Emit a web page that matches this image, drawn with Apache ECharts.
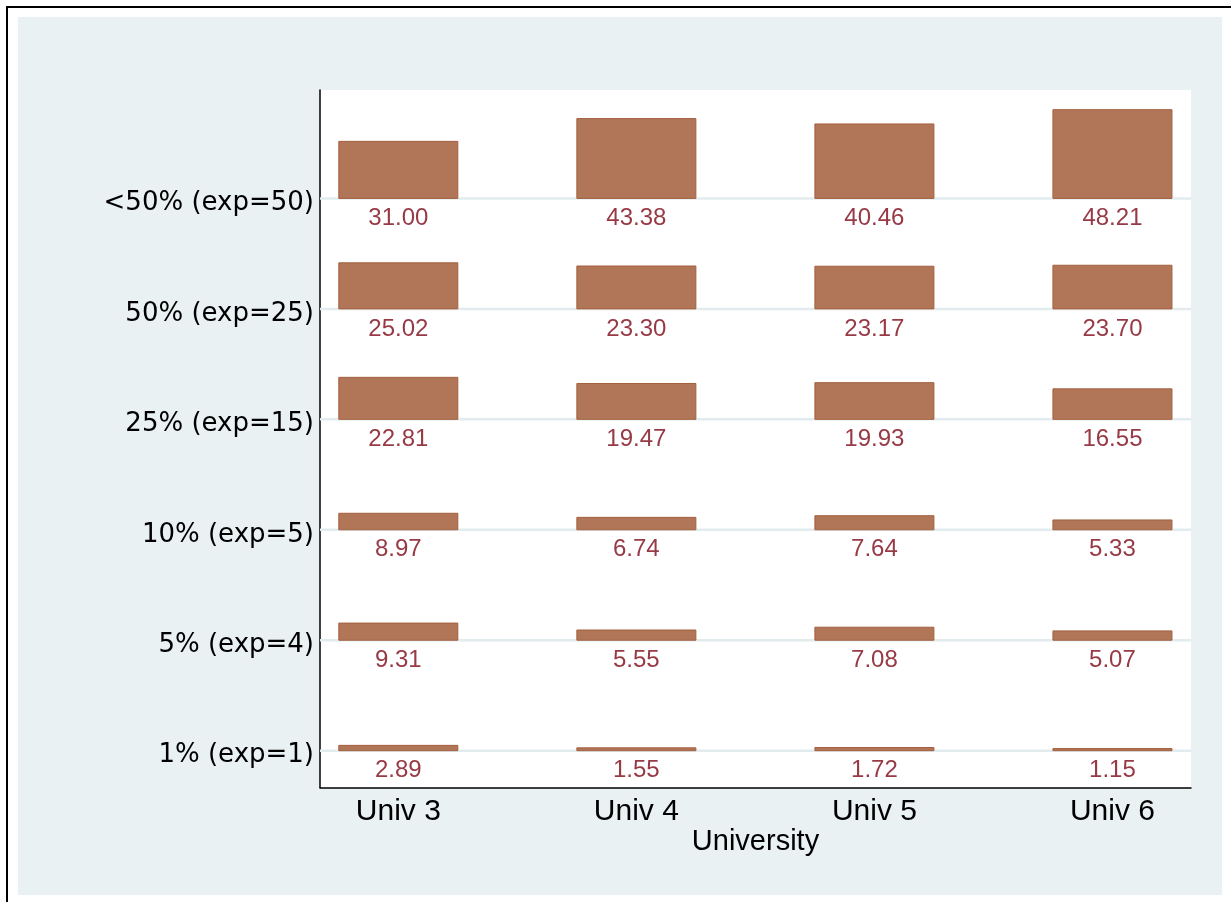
<!DOCTYPE html>
<html>
<head>
<meta charset="utf-8">
<script src="https://cdn.jsdelivr.net/npm/echarts@6/dist/echarts.min.js"></script>
<style>
  html, body { margin: 0; padding: 0; background: #ffffff; }
  #chart { width: 1231px; height: 902px; }
</style>
</head>
<body>
<div id="chart"></div>
<script>
// ---- data ----
const universities = ['Univ 3', 'Univ 4', 'Univ 5', 'Univ 6'];
const rowLabels = ['<50% (exp=50)', '50% (exp=25)', '25% (exp=15)', '10% (exp=5)', '5% (exp=4)', '1% (exp=1)'];
const univ3 = [31.00, 25.02, 22.81, 8.97, 9.31, 2.89];
const univ4 = [43.38, 23.30, 19.47, 6.74, 5.55, 1.55];
const univ5 = [40.46, 23.17, 19.93, 7.64, 7.08, 1.72];
const univ6 = [48.21, 23.70, 16.55, 5.33, 5.07, 1.15];

// ---- layout of the stacked rows (value-axis units) ----
const ROW_STEP = 60;
const ROW_OFFSET = 20;
const nRows = rowLabels.length;
const baseOf = i => ROW_OFFSET + ROW_STEP * (nRows - 1 - i);
const baselines = rowLabels.map((_, i) => baseOf(i));

const columns = [univ3, univ4, univ5, univ6];
const cellData = [];
columns.forEach((vals, j) => {
  vals.forEach((v, i) => cellData.push([j + 1, baseOf(i), v]));
});

const BAR_COLOR = '#b17657';
const BAR_EDGE = '#a4603f';
const LABEL_COLOR = '#973a45';
const BG = '#e9f1f3';

const chart = echarts.init(document.getElementById('chart'), null, { renderer: 'canvas' });

const option = {
  animation: false,
  backgroundColor: '#ffffff',
  graphic: [
    { type: 'rect', z: -10, shape: { x: 7, y: 7, width: 1240, height: 900 },
      style: { fill: '#ffffff', stroke: '#000000', lineWidth: 2 } },
    { type: 'rect', z: -9, shape: { x: 18, y: 17, width: 1204, height: 878 },
      style: { fill: BG } }
  ],
  grid: {
    left: 320, top: 90, right: 40, bottom: 114.5,
    show: true, backgroundColor: '#ffffff', borderWidth: 0
  },
  xAxis: {
    type: 'value',
    min: 0.671, max: 4.33,
    name: 'University',
    nameLocation: 'middle',
    nameGap: 40,
    nameMoveOverlap: false,
    nameTextStyle: { fontFamily: 'Liberation Sans', fontSize: 29, color: '#000' },
    axisLine: { show: true, onZero: false, lineStyle: { color: '#000', width: 1.5 } },
    axisTick: { show: false },
    splitLine: { show: false },
    axisLabel: {
      customValues: [1, 2, 3, 4],
      formatter: v => universities[Math.round(v) - 1],
      fontFamily: 'Liberation Sans', fontSize: 30, color: '#000', margin: 9
    }
  },
  yAxis: {
    type: 'value',
    min: 0, max: 378.9,
    axisLine: { show: true, onZero: false, lineStyle: { color: '#000', width: 1.5 } },
    axisTick: { show: false },
    splitLine: { show: false },
    axisLabel: {
      customValues: baselines,
      formatter: v => '{r|' + rowLabels[nRows - 1 - Math.round((v - ROW_OFFSET) / ROW_STEP)] + '}',
      margin: 6,
      rich: {
        r: { fontFamily: 'DejaVu Sans', fontSize: 26, color: '#000', padding: [10, 0, 0, 0] }
      }
    }
  },
  series: [
    {
      type: 'custom',
      name: 'gridlines',
      z: 1,
      silent: true,
      data: baselines,
      renderItem: (params, api) => {
        const cs = params.coordSys;
        const y = api.coord([1, api.value(0)])[1];
        return {
          type: 'line',
          shape: { x1: cs.x, y1: y, x2: cs.x + cs.width, y2: y },
          style: { stroke: '#e2ecef', lineWidth: 2.5 }
        };
      }
    },
    {
      type: 'custom',
      name: 'cells',
      z: 3,
      data: cellData,
      encode: { x: 0, y: 1 },
      renderItem: (params, api) => {
        const x = api.value(0), base = api.value(1), v = api.value(2);
        const p0 = api.coord([x - 0.25, base]);
        const p1 = api.coord([x + 0.25, base + v]);
        const mid = api.coord([x, base]);
        return {
          type: 'group',
          children: [
            {
              type: 'rect',
              shape: { x: p0[0], y: p1[1], width: p1[0] - p0[0], height: p0[1] - p1[1] },
              style: { fill: BAR_COLOR, stroke: BAR_EDGE, lineWidth: 1 }
            },
            {
              type: 'text',
              style: {
                x: mid[0], y: mid[1] + 20,
                text: v.toFixed(2),
                align: 'center', verticalAlign: 'middle',
                fontFamily: 'Liberation Sans', fontSize: 24, fill: LABEL_COLOR
              }
            }
          ]
        };
      }
    }
  ]
};

chart.setOption(option);
</script>
</body>
</html>
